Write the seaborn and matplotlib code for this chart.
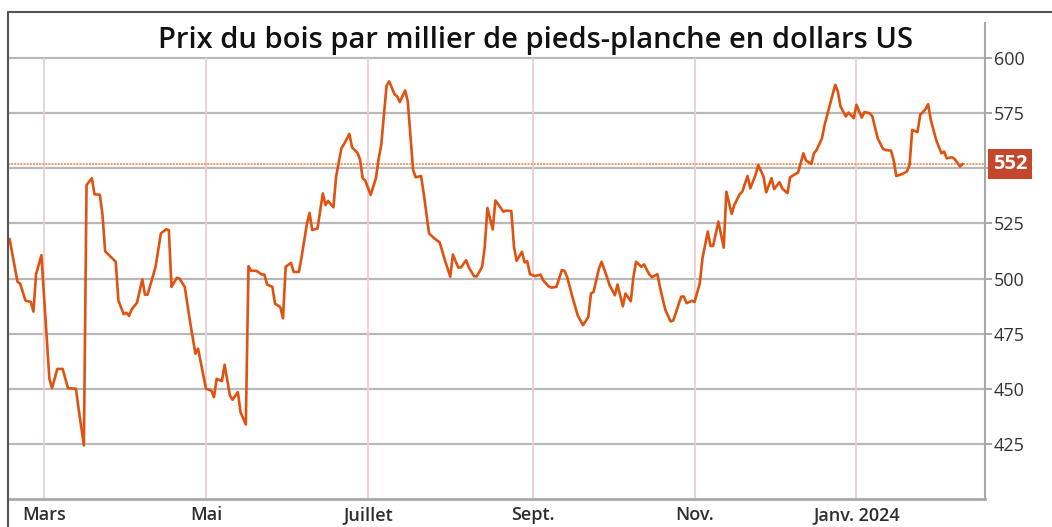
import matplotlib
matplotlib.use('Agg')
import pandas as pd
import numpy as np
import matplotlib.pyplot as plt
import matplotlib.lines as mlines
import seaborn as sns

# Prix du bois (dollars US par millier de pieds-planche)
dates = [
    "2023-02-16", "2023-02-19", "2023-02-20", "2023-02-22", "2023-02-24", "2023-02-25", "2023-02-26", "2023-02-28",
    "2023-03-03", "2023-03-04", "2023-03-06", "2023-03-08", "2023-03-10", "2023-03-13", "2023-03-14", "2023-03-16",
    "2023-03-17", "2023-03-19", "2023-03-20", "2023-03-22", "2023-03-23", "2023-03-24", "2023-03-28", "2023-03-29",
    "2023-03-31",
    "2023-04-01", "2023-04-02", "2023-04-03", "2023-04-05", "2023-04-07", "2023-04-08", "2023-04-09", "2023-04-12",
    "2023-04-14", "2023-04-16", "2023-04-17", "2023-04-18", "2023-04-20", "2023-04-21", "2023-04-23", "2023-04-25",
    "2023-04-27", "2023-04-28",
    "2023-05-01", "2023-05-03", "2023-05-04", "2023-05-05", "2023-05-07", "2023-05-08", "2023-05-10", "2023-05-11",
    "2023-05-13", "2023-05-14", "2023-05-16", "2023-05-17", "2023-05-18", "2023-05-20", "2023-05-22", "2023-05-23",
    "2023-05-24", "2023-05-26", "2023-05-27", "2023-05-29", "2023-05-30", "2023-05-31",
    "2023-06-02", "2023-06-03", "2023-06-05", "2023-06-06", "2023-06-08", "2023-06-09", "2023-06-10", "2023-06-12",
    "2023-06-14", "2023-06-15", "2023-06-16", "2023-06-18", "2023-06-19", "2023-06-21", "2023-06-22", "2023-06-24",
    "2023-06-25", "2023-06-27", "2023-06-28", "2023-06-29", "2023-06-30",
    "2023-07-02", "2023-07-04", "2023-07-05", "2023-07-06", "2023-07-08", "2023-07-09", "2023-07-11", "2023-07-12",
    "2023-07-13", "2023-07-15", "2023-07-16", "2023-07-18", "2023-07-19", "2023-07-21", "2023-07-22", "2023-07-24",
    "2023-07-26", "2023-07-28", "2023-07-30",
    "2023-08-01", "2023-08-02", "2023-08-04", "2023-08-05", "2023-08-07", "2023-08-08", "2023-08-10", "2023-08-11",
    "2023-08-13", "2023-08-14", "2023-08-15", "2023-08-17", "2023-08-18", "2023-08-19", "2023-08-21", "2023-08-22",
    "2023-08-24", "2023-08-25", "2023-08-26", "2023-08-28", "2023-08-29", "2023-08-30", "2023-08-31",
    "2023-09-02", "2023-09-04", "2023-09-05", "2023-09-07", "2023-09-08", "2023-09-10", "2023-09-12", "2023-09-13",
    "2023-09-14", "2023-09-16", "2023-09-18", "2023-09-20", "2023-09-22", "2023-09-23", "2023-09-24", "2023-09-26",
    "2023-09-27", "2023-09-29", "2023-09-30",
    "2023-10-02", "2023-10-03", "2023-10-05", "2023-10-06", "2023-10-08", "2023-10-09", "2023-10-10", "2023-10-12",
    "2023-10-13", "2023-10-15", "2023-10-16", "2023-10-18", "2023-10-19", "2023-10-21", "2023-10-23", "2023-10-24",
    "2023-10-27", "2023-10-28", "2023-10-29", "2023-10-31",
    "2023-11-01", "2023-11-03", "2023-11-04", "2023-11-06", "2023-11-07", "2023-11-08", "2023-11-10", "2023-11-12",
    "2023-11-13", "2023-11-15", "2023-11-16", "2023-11-18", "2023-11-19", "2023-11-21", "2023-11-22", "2023-11-24",
    "2023-11-25", "2023-11-27", "2023-11-28", "2023-11-30",
    "2023-12-01", "2023-12-03", "2023-12-04", "2023-12-06", "2023-12-07", "2023-12-09", "2023-12-10", "2023-12-12",
    "2023-12-13", "2023-12-15", "2023-12-16", "2023-12-17", "2023-12-19", "2023-12-20", "2023-12-22", "2023-12-24",
    "2023-12-25", "2023-12-26", "2023-12-28", "2023-12-29", "2023-12-31",
    "2024-01-01", "2024-01-03", "2024-01-04", "2024-01-06", "2024-01-07", "2024-01-09", "2024-01-11", "2024-01-12",
    "2024-01-14", "2024-01-15", "2024-01-16", "2024-01-18", "2024-01-20", "2024-01-21", "2024-01-22", "2024-01-24",
    "2024-01-25", "2024-01-27", "2024-01-28", "2024-01-29", "2024-01-31",
    "2024-02-02", "2024-02-03", "2024-02-04", "2024-02-06", "2024-02-07", "2024-02-09", "2024-02-10",
]

prix = [
    518, 498.5, 497.7, 490, 489.4, 485, 502, 510.6,
    454.5, 450.3, 459, 459, 450.3, 450, 441, 424.3, 542.4, 545.5, 538.2, 538, 529, 512.4, 507.6, 490, 483.8,
    484.5, 483, 486, 489, 499.6, 492.7, 492.7, 505.3, 520.5, 522.3, 522, 496.2, 500.3, 500, 496.2, 480.3, 465.9, 468.2,
    450, 449.2, 446.2, 454.5, 453.5, 460.9, 447, 445, 448.5, 439.4, 433.8, 505.6, 503.5, 503.5, 501.8, 501.8,
    497.3, 496.2, 488.6, 487, 482, 505.3,
    507.1, 503, 503, 509.8, 524.7, 529.8, 522, 522.7, 538.6, 533.3, 535.2, 532.3, 546.2, 559.1, 561, 565.6,
    559.5, 557.1, 554.1, 545.5, 544.4,
    537.9, 545.5, 554.1, 560.6, 587.4, 589.4, 583.6, 582.6, 580, 585.3, 580.3, 549.2, 545.9, 546.5, 538.6, 520.5,
    518.2, 516.4, 508.3,
    500.8, 510.9, 505, 505, 508.3, 505, 501, 501, 505.3, 514.4, 532, 522.3, 535.4, 533.8, 530.3, 530.8,
    530.6, 514.4, 508, 512.1, 507.3, 507.9, 502,
    501.1, 501.8, 499.2, 496.5, 495.9, 496.2, 503.8, 503.5, 500.8, 491.7, 483.3, 478.8, 482.6, 493.2, 494, 504.5,
    507.6, 500.8, 497,
    492.4, 497.3, 487.4, 493.2, 489.7, 500.8, 507.6, 505.3, 506.4, 501.8, 500.6, 502, 496, 485.8, 480.5, 481,
    491.8, 491.8, 488.8, 489.9,
    489.3, 497.9, 509.2, 521.3, 514.8, 514.8, 525.8, 514, 539.4, 529.3, 533.4, 538.2, 539.4, 546.5, 540.9, 547,
    551.5, 546.2, 539.1, 545.5,
    540.5, 543.7, 540.9, 538.7, 545.9, 547.4, 548, 556.8, 553.5, 552, 556.8, 558.3, 563.6, 569.7, 578.8, 587.9,
    584.8, 578, 573.5, 575.3, 572.7,
    578.8, 573, 575.5, 575, 573.5, 563.6, 558.8, 558.3, 558, 553.8, 546.5, 547.3, 548.5, 551.5, 567.4, 566.4,
    574.2, 576.8, 579.1, 572, 562.9,
    556.8, 557.6, 554.5, 555, 554.2, 550.8, 552,
]

mois = ["2023-03-01", "2023-05-01", "2023-07-01", "2023-09-01", "2023-11-01", "2024-01-01"]
mois_labels = ["Mars", "Mai", "Juillet", "Sept.", "Nov.", "Janv. 2024"]
y_ticks = [425, 450, 475, 500, 525, 550, 575, 600]
dernier = 552
titre = "Prix du bois par millier de pieds-planche en dollars US"

df = pd.DataFrame({"date": pd.to_datetime(dates), "prix": prix})
mois_dt = pd.to_datetime(mois)

sns.set_style("white")
plt.rcParams["font.family"] = ["Open Sans", "DejaVu Sans"]

W, H = 1052, 527
fig = plt.figure(figsize=(W / 100, H / 100), dpi=100)
ax = fig.add_axes([8 / W, 28 / H, 977 / W, 476 / H])

# lignes verticales des mois (roses) et horizontales (grises)
ax.vlines(mois_dt, 400, 600, color="#ebcdd6", linewidth=1.3, zorder=1)
ax.grid(axis="y", color="#b8b8b8", linewidth=1.6)
ax.grid(axis="x", visible=False)
ax.set_axisbelow(True)

ax.axhline(dernier, color="#f39a68", linestyle=(0, (1, 0.6)), linewidth=1.4, zorder=3)

sns.lineplot(data=df, x="date", y="prix", ax=ax, color="#e0520f", linewidth=1.9, zorder=4)

ax.set_xlim(pd.Timestamp("2023-02-15 10:00"), pd.Timestamp("2024-02-18 10:00"))
ax.set_ylim(400, 615.9)
ax.set_xlabel("")
ax.set_ylabel("")

ax.yaxis.tick_right()
ax.set_yticks(y_ticks)
ax.set_yticklabels(["" if v == 550 else str(v) for v in y_ticks])
ax.set_xticks(mois_dt)
ax.set_xticklabels(mois_labels, fontweight="semibold")
ax.tick_params(axis="x", length=0, pad=5, labelsize=13, labelcolor="#2e2e2e")
ax.tick_params(axis="y", length=5, width=1.3, color="#a0a0a0", pad=1.5, labelsize=13, labelcolor="#333333")

for s in ["top", "left"]:
    ax.spines[s].set_visible(False)
ax.spines["right"].set_color("#a8a8a8")
ax.spines["right"].set_linewidth(1.5)
ax.spines["bottom"].set_color("#a8a8a8")
ax.spines["bottom"].set_linewidth(2)

# étiquette de la dernière valeur
ax.annotate(str(dernier), xy=(1, dernier), xycoords=("axes fraction", "data"),
            xytext=(5.5, 0), textcoords="offset points", ha="left", va="center",
            color="white", fontsize=14.5, fontweight="bold", zorder=6, annotation_clip=False,
            bbox=dict(boxstyle="square,pad=0.25", fc="#c4472b", ec="none"))

# cadre extérieur
fig.add_artist(mlines.Line2D([8 / W, 8 / W], [0, 1 - 12 / H], transform=fig.transFigure,
                             color="#555555", linewidth=1.5))
fig.add_artist(mlines.Line2D([8 / W, 1], [1 - 12 / H, 1 - 12 / H], transform=fig.transFigure,
                             color="#555555", linewidth=1.5))

fig.text(536 / W, 1 - 48 / H, titre, ha="center", va="baseline", fontsize=21,
         fontweight="semibold", color="#111111")

plt.savefig("out.png", dpi=100)
